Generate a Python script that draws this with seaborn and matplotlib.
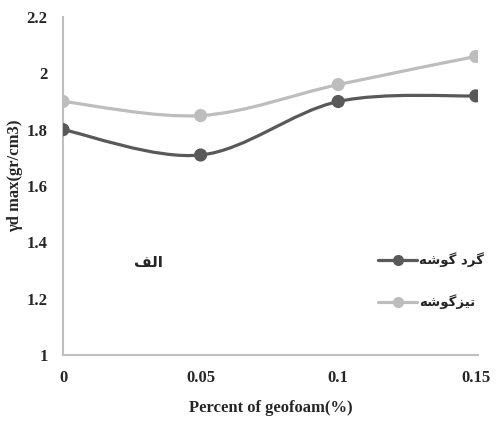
import numpy as np
import pandas as pd
import matplotlib
matplotlib.use("Agg")
import matplotlib.pyplot as plt
from matplotlib.path import Path
from matplotlib.patches import PathPatch
from matplotlib.lines import Line2D
import seaborn as sns

# ---- data ----
geofoam = [0, 0.05, 0.1, 0.15]
rounded = [1.80, 1.71, 1.90, 1.92]      # گرد گوشه
sharp = [1.90, 1.85, 1.96, 2.06]        # تیزگوشه
x_ticks = [0, 0.05, 0.1, 0.15]
x_ticklabels = ["0", "0.05", "0.1", "0.15"]
y_ticks = [1, 1.2, 1.4, 1.6, 1.8, 2, 2.2]
y_ticklabels = ["1", "1.2", "1.4", "1.6", "1.8", "2", "2.2"]
# Persian labels (shaped presentation forms, visual order)
label_rounded = "\uFEEA\uFEB7\uFEEE\uFB94 \uFEA9\uFEAE\uFB94"   # گرد گوشه
label_sharp = "\uFEEA\uFEB7\uFEEE\uFB94\uFEB0\uFBFF\uFE97"      # تیزگوشه
label_alef = "\uFED2\uFEDF\uFE8D"                              # الف

dark = "#595959"
light = "#BDBDBD"

sns.set_style("white")
plt.rcParams["font.family"] = ["Liberation Serif", "DejaVu Sans"]

fig = plt.figure(figsize=(4.98, 4.21), dpi=100)
ax = fig.add_axes([63 / 498, 1 - 355 / 421, (478 - 63) / 498, (355 - 17) / 421])

df = pd.DataFrame({
    "x": geofoam * 2,
    "y": rounded + sharp,
    "s": ["r"] * 4 + ["s"] * 4,
})

def smooth_path(xs, ys):
    xs = np.asarray(xs, float); ys = np.asarray(ys, float)
    n = len(xs)
    verts = [(xs[0], ys[0])]
    codes = [Path.MOVETO]
    for i in range(n - 1):
        p0 = np.array([xs[max(i - 1, 0)], ys[max(i - 1, 0)]])
        p1 = np.array([xs[i], ys[i]])
        p2 = np.array([xs[i + 1], ys[i + 1]])
        p3 = np.array([xs[min(i + 2, n - 1)], ys[min(i + 2, n - 1)]])
        c1 = p1 + (p2 - p0) / 6.0
        c2 = p2 - (p3 - p1) / 6.0
        verts += [tuple(c1), tuple(c2), tuple(p2)]
        codes += [Path.CURVE4] * 3
    return Path(verts, codes)

for vals, col in [(sharp, light), (rounded, dark)]:
    ax.add_patch(PathPatch(smooth_path(geofoam, vals), facecolor="none",
                           edgecolor=col, lw=2.3, zorder=2, capstyle="round"))

sns.scatterplot(data=df, x="x", y="y", hue="s", palette={"r": dark, "s": light},
                s=90, edgecolor="none", legend=False, ax=ax, zorder=3)

ax.set_xlim(0, 0.1508)
ax.set_ylim(1, 2.2)
ax.set_xticks(x_ticks)
ax.set_xticklabels(x_ticklabels)
ax.set_yticks(y_ticks)
ax.set_yticklabels(y_ticklabels)
ax.tick_params(axis="both", length=0, labelsize=12)
ax.tick_params(axis="y", pad=11)
ax.tick_params(axis="x", pad=11)
for lab in ax.get_xticklabels() + ax.get_yticklabels():
    lab.set_fontweight("bold")

for sp in ["top", "right"]:
    ax.spines[sp].set_visible(False)
for sp in ["left", "bottom"]:
    ax.spines[sp].set_color("#BFBFBF")
    ax.spines[sp].set_linewidth(1.5)

ax.set_xlabel("Percent of geofoam(%)", fontsize=12, fontweight="bold", labelpad=10)
ax.set_ylabel("\u03b3d max(gr/cm3)", fontsize=12, fontweight="bold")
ax.yaxis.set_label_coords(-0.095, 0.53)

ax.text(0.031, 1.33, label_alef, fontsize=11, ha="center", va="center",
        family=["DejaVu Sans"], fontweight="bold")

handles = [
    Line2D([], [], color=dark, lw=2.3, marker="o", markersize=8, markeredgewidth=0),
    Line2D([], [], color=light, lw=2.3, marker="o", markersize=8, markeredgewidth=0),
]
leg = ax.legend(handles, [label_rounded, label_sharp], loc="center left",
                bbox_to_anchor=(366 / 498, 1 - 281 / 421), bbox_transform=fig.transFigure,
                frameon=False, handlelength=3.0, handletextpad=0.15, labelspacing=2.05,
                prop={"family": ["DejaVu Sans"], "size": 9.5, "weight": "bold"})

fig.savefig("out.png", dpi=100)
